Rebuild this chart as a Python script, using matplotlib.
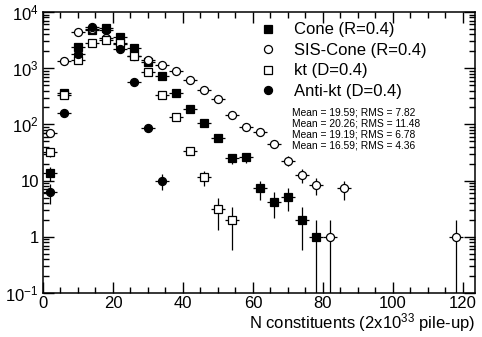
import matplotlib
matplotlib.use("Agg")
import matplotlib.pyplot as plt
from matplotlib.lines import Line2D
from matplotlib.ticker import FixedLocator, FixedFormatter, MultipleLocator, LogLocator
import numpy as np

plt.rcParams['font.family'] = ['Liberation Sans', 'DejaVu Sans']
plt.rcParams['mathtext.default'] = 'regular'

# bin centres (bin width 4) and counts per algorithm
cone_x = [2, 6, 10, 14, 18, 22, 26, 30, 34, 38, 42, 46, 50, 54, 58, 62, 66, 70, 74, 78]
cone_y = [13.7, 355, 2400, 4800, 5200, 3600, 2300, 1300, 730, 366, 185, 104, 58, 25, 26,
          7.3, 4.2, 5.2, 2, 1]

sis_x = [2, 6, 10, 14, 18, 22, 26, 30, 34, 38, 42, 46, 50, 54, 58, 62, 66, 70, 74, 78,
         82, 86, 118]
sis_y = [70, 1350, 4400, 4900, 3450, 2700, 1680, 1400, 1140, 890, 620, 410, 280, 147, 90,
         74, 44, 22.6, 12.6, 8.4, 1, 7.3, 1]

kt_x = [2, 6, 10, 14, 18, 22, 26, 30, 34, 38, 42, 46, 50, 54]
kt_y = [32, 340, 1400, 2800, 3200, 2800, 1650, 870, 334, 137, 34, 11.4, 3.1, 2]

akt_x = [2, 6, 10, 14, 18, 22, 26, 30, 34]
akt_y = [6.3, 158, 1800, 5500, 4800, 2200, 570, 85, 10]

labels = ['Cone (R=0.4)', 'SIS-Cone (R=0.4)', 'kt (D=0.4)', 'Anti-kt (D=0.4)']
stats = ['Mean = 19.59; RMS = 7.82', 'Mean = 20.26; RMS = 11.48',
         'Mean = 19.19; RMS = 6.78', 'Mean = 16.59; RMS = 4.36']

fig = plt.figure(figsize=(4.82, 3.37), dpi=100)
ax = fig.add_axes([43/482, 1-293/337, 432/482, 281/337])

styles = [('s', 'black'), ('o', 'white'), ('s', 'white'), ('o', 'black')]
series = [(cone_x, cone_y), (sis_x, sis_y), (kt_x, kt_y), (akt_x, akt_y)]
handles = []
for (xs, ys), (m, fc), lab in zip(series, styles, labels):
    xs = np.array(xs, float)
    ys = np.array(ys, float)
    err = np.sqrt(ys)
    lo = np.minimum(err, ys - 1e-3)
    ax.errorbar(xs, ys, xerr=2, yerr=[lo, err], fmt=m, ms=5.8, mfc=fc, mec='black',
                mew=0.9, ecolor='black', elinewidth=0.9, capsize=0)
    handles.append(Line2D([], [], ls='none', marker=m, ms=5.8, mfc=fc, mec='black', mew=0.9))

ax.set_yscale('log')
ax.set_ylim(0.1, 1e4)
ax.set_xlim(0, 123.5)

ax.yaxis.set_major_locator(FixedLocator([0.1, 1, 10, 100, 1000, 10000]))
ax.yaxis.set_major_formatter(FixedFormatter(['$10^{-1}$', '1', '10', '$10^{2}$', '$10^{3}$', '$10^{4}$']))
ax.yaxis.set_minor_locator(LogLocator(base=10, subs=np.arange(2, 10)))
ax.yaxis.set_minor_formatter(FixedFormatter([]))
ax.xaxis.set_major_locator(MultipleLocator(20))
ax.xaxis.set_minor_locator(MultipleLocator(5))

ax.tick_params(which='both', direction='in', top=True, right=True, labelsize=12, width=1)
ax.tick_params(which='major', length=8)
ax.tick_params(which='minor', length=4)
ax.tick_params(axis='x', pad=2)
ax.tick_params(axis='y', pad=3)
for s in ax.spines.values():
    s.set_linewidth(1.1)

ax.set_xlabel('N constituents (2x10$^{33}$ pile-up)', fontsize=12, loc='right', labelpad=0)

ax.legend(handles, labels, loc='upper left', bbox_to_anchor=(0.494, 0.975), frameon=False,
          fontsize=12, handlelength=1.0, handletextpad=1.06, labelspacing=0.33,
          borderaxespad=0.0, borderpad=0.2)

ax.text(0.576, 0.661, '\n'.join(stats), transform=ax.transAxes, fontsize=7.4,
        va='top', ha='left', linespacing=1.12)

fig.savefig('out.png', dpi=100)
